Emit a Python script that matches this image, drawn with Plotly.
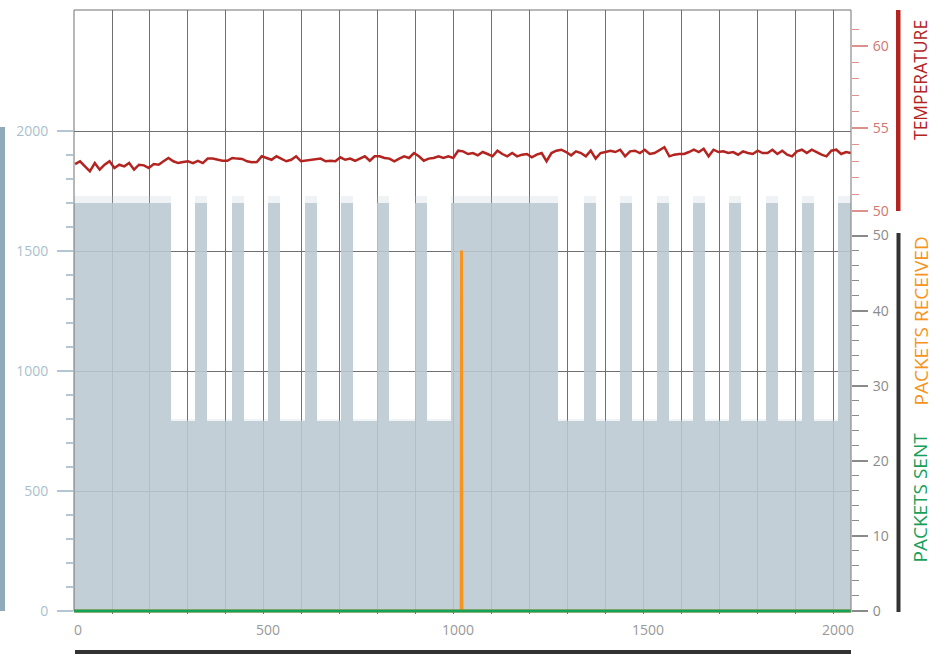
import numpy as np
import plotly.graph_objects as go

# ---------------- data ----------------
# packets (left axis): alternating high / low blocks
high_start = [0, 318, 416, 510, 608, 703, 797, 897, 992, 1342, 1437, 1534, 1629, 1724, 1821, 1916, 2011]
high_end = [255, 350, 447, 542, 639, 734, 829, 929, 1274, 1374, 1468, 1566, 1661, 1755, 1853, 1947, 2045]
high_level = 1700
low_level = 790
high_peak = 1728   # faint jitter reaching above the blocks
low_peak = 800

# temperature (right top axis)
temperature = [
    52.83, 53.00, 52.69, 52.39, 52.89, 52.49, 52.79, 53.00, 52.59, 52.79, 52.69, 52.89, 52.49, 52.79,
    52.75, 52.59, 52.83, 52.79, 53.00, 53.20, 53.00, 52.89, 52.95, 53.00, 52.89, 53.03, 52.89, 53.16,
    53.16, 53.09, 53.03, 53.03, 53.20, 53.16, 53.14, 53.00, 52.94, 52.95, 53.30,
    53.20, 53.09, 53.30, 53.16, 53.00, 53.09, 53.30, 53.00, 53.03, 53.09, 53.09, 53.16, 53.00, 53.03,
    53.00, 53.24, 53.09, 53.16, 53.03, 53.16, 53.30, 53.03, 53.30, 53.30, 53.20, 53.16, 53.00, 53.16,
    53.30, 53.20, 53.50, 53.30, 53.03, 53.16, 53.20, 53.30, 53.20, 53.30, 53.20, 53.64,
    53.60, 53.44, 53.50, 53.36, 53.56, 53.44, 53.30, 53.64, 53.44, 53.30, 53.50, 53.30, 53.40, 53.44,
    53.24, 53.40, 53.50, 53.00, 53.50, 53.64, 53.70, 53.56, 53.36, 53.60, 53.50, 53.30, 53.64, 53.16,
    53.50, 53.56, 53.64, 53.56, 53.70, 53.30, 53.60, 53.64, 53.50, 53.70, 53.44,
    53.50, 53.70, 53.85, 53.30, 53.40, 53.44, 53.44, 53.56, 53.70, 53.56, 53.76, 53.30, 53.70, 53.56,
    53.60, 53.50, 53.56, 53.40, 53.60, 53.50, 53.44, 53.64, 53.50, 53.50, 53.70, 53.44, 53.64, 53.40,
    53.30, 53.60, 53.70, 53.50, 53.70, 53.56, 53.40, 53.30, 53.64, 53.70, 53.44, 53.56, 53.50,
]
temp_first_x = 3
temp_last_x = 2045

# packets received / sent (right bottom axis)
received_x = [0, 1019, 1020, 1021, 2045]
received_y = [0, 0, 48, 0, 0]
sent_x = [0, 2045]
sent_y = [0, 0]

x_ticks = [0, 500, 1000, 1500, 2000]
left_ticks = [0, 500, 1000, 1500, 2000]
packet_ticks = [0, 10, 20, 30, 40, 50]
temp_ticks = [50, 55, 60]

# ---------------- build bar blocks ----------------
bx, bw, bh, bp = [], [], [], []
for i in range(len(high_start)):
    bx.append((high_start[i] + high_end[i]) / 2)
    bw.append(high_end[i] - high_start[i])
    bh.append(high_level)
    bp.append(high_peak)
    if i + 1 < len(high_start):
        bx.append((high_end[i] + high_start[i + 1]) / 2)
        bw.append(high_start[i + 1] - high_end[i])
        bh.append(low_level)
        bp.append(low_peak)

temp_x = np.linspace(temp_first_x, temp_last_x, len(temperature))

# ---------------- layout geometry ----------------
W, H = 933, 656
L, R, T, B = 74, 82, 10, 42
PW, PH = W - L - R, H - T - B
BOTTOM = H - B  # pixel row of plot bottom


def px(x):
    return (x - L) / PW


def py(y):
    return (BOTTOM - y) / PH


def axis_range(v0, y0, v1, y1):
    per_px = (v1 - v0) / (y0 - y1)
    lo = v0 - (BOTTOM - y0) * per_px
    hi = v0 + (y0 - T) * per_px
    return [lo, hi]


left_range = axis_range(0, 611, 2000, 131)
packet_range = axis_range(0, 611, 50, 235.5)
temp_range = axis_range(50, 210.7, 55, 128.3)

FONT = "Open Sans"
GRID = "#707070"

fig = go.Figure()
fig.add_trace(go.Bar(x=bx, y=bp, width=bw, marker=dict(color="rgba(186,200,209,0.22)", line=dict(width=0)),
                     yaxis="y", showlegend=False, hoverinfo="skip"))
fig.add_trace(go.Bar(x=bx, y=bh, width=bw, marker=dict(color="rgba(186,200,209,0.86)", line=dict(width=0)),
                     yaxis="y", showlegend=False, hoverinfo="skip"))
fig.add_trace(go.Scatter(x=temp_x, y=temperature, mode="lines", line=dict(color="#b3231f", width=2.5),
                         yaxis="y3", showlegend=False))
fig.add_trace(go.Scatter(x=received_x, y=received_y, mode="lines", line=dict(color="#f7941d", width=3),
                         yaxis="y2", showlegend=False))
fig.add_trace(go.Scatter(x=sent_x, y=sent_y, mode="lines", line=dict(color="#17a05a", width=3),
                         yaxis="y2", showlegend=False))

left_minor = [v for v in range(100, 2000, 100) if v % 500]
packet_minor = [v for v in range(2, 50, 2) if v % 10]
temp_minor = [v for v in range(51, 62) if v % 5]

fig.update_layout(
    width=W, height=H, margin=dict(l=L, r=R, t=T, b=B, autoexpand=False),
    paper_bgcolor="white", plot_bgcolor="rgba(0,0,0,0)", bargap=0, barmode="overlay",
    font=dict(family=FONT, size=14),
    xaxis=dict(range=[0, 2045], tickvals=x_ticks, ticks="", showgrid=True, gridcolor=GRID, gridwidth=1,
               zeroline=False, showline=False, tickfont=dict(color="#999999", size=14), automargin=False,
               ticklabelshift=4, ticklabelstandoff=6,
               minor=dict(dtick=100, tick0=0, showgrid=True, gridcolor=GRID, gridwidth=1, ticks="")),
    yaxis=dict(range=left_range, tickvals=left_ticks, ticks="outside", ticklen=16, automargin=False,
               tickwidth=2, tickcolor="#b3c6d1", tickfont=dict(color="#a9bfcc", size=14),
               showgrid=True, gridcolor=GRID, gridwidth=1, zeroline=False, showline=False,
               ticklabelstandoff=6,
               minor=dict(tickvals=left_minor, ticks="outside", ticklen=7, tickwidth=1.5,
                          tickcolor="#b3c6d1", showgrid=False)),
    yaxis2=dict(overlaying="y", range=packet_range, anchor="x", side="right", tickvals=packet_ticks,
                ticks="outside", ticklen=16, tickwidth=1.5, tickcolor="#8a8a8a", automargin=False,
                tickfont=dict(color="#8a8a8a", size=14), showgrid=False, zeroline=False, showline=False,
                ticklabelstandoff=2,
                minor=dict(tickvals=packet_minor, ticks="outside", ticklen=7, tickwidth=1.2,
                           tickcolor="#8a8a8a", showgrid=False)),
    yaxis3=dict(overlaying="y", range=temp_range, anchor="x", side="right", tickvals=temp_ticks,
                ticks="outside", ticklen=16, tickwidth=1.5, tickcolor="#dc928c", automargin=False,
                tickfont=dict(color="#d0766f", size=14), showgrid=False, zeroline=False, showline=False,
                ticklabelstandoff=2,
                minor=dict(tickvals=temp_minor, ticks="outside", ticklen=7, tickwidth=1.2,
                           tickcolor="#dc928c", showgrid=False)),
)

shapes = []
shapes.append(dict(type="line", xref="paper", yref="paper", x0=0, x1=1, y0=1, y1=1, line=dict(color=GRID, width=1)))
shapes.append(dict(type="line", xref="paper", yref="paper", x0=0, x1=0, y0=py(611), y1=1, line=dict(color=GRID, width=1)))
shapes.append(dict(type="line", xref="paper", yref="paper", x0=1, x1=1, y0=py(612), y1=1, line=dict(color="#8a8a8a", width=1.2)))
shapes.append(dict(type="rect", xref="paper", yref="paper", x0=px(0), x1=px(5), y0=py(611), y1=py(127),
                   line=dict(width=0), fillcolor="#8faab9"))
shapes.append(dict(type="rect", xref="paper", yref="paper", x0=px(896), x1=px(900.5), y0=py(211), y1=py(10),
                   line=dict(width=0), fillcolor="#b3231f"))
shapes.append(dict(type="rect", xref="paper", yref="paper", x0=px(896.5), x1=px(900.5), y0=py(612), y1=py(233),
                   line=dict(width=0), fillcolor="#333333"))
shapes.append(dict(type="rect", xref="paper", yref="paper", x0=px(75), x1=px(851), y0=py(654), y1=py(650),
                   line=dict(width=0), fillcolor="#333333"))
fig.update_layout(shapes=shapes)

ann = [
    dict(text="TEMPERATURE", color="#b3231f", yc=80, size=17.5),
    dict(text="PACKETS RECEIVED", color="#f7941d", yc=321.5, size=19),
    dict(text="PACKETS SENT", color="#17a05a", yc=497.5, size=19),
]
for a in ann:
    fig.add_annotation(text=a["text"], xref="paper", yref="paper", x=px(920), y=py(a["yc"]),
                       xanchor="center", yanchor="middle", textangle=-90, showarrow=False,
                       font=dict(family=FONT, size=a["size"], color=a["color"]))

fig.write_html("out.html", config={"displayModeBar": False},
               post_script="document.body.style.margin='0';document.body.style.padding='0';"
                           "document.documentElement.style.overflow='hidden';")
